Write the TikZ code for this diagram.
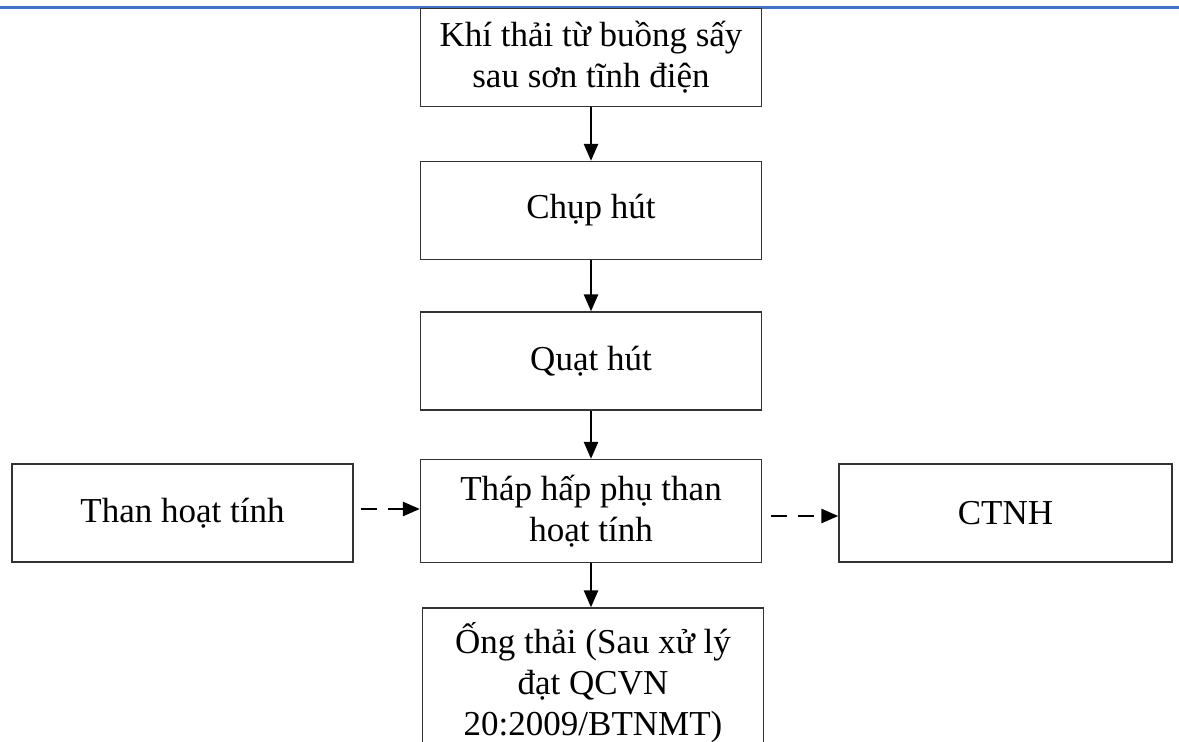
\documentclass[tikz,border=0pt]{standalone}
\usepackage{fontspec}
\setmainfont{Liberation Serif}
\usetikzlibrary{arrows.meta}
\definecolor{rulecol}{RGB}{68,114,196}

\begin{document}
\begin{tikzpicture}[x=1pt,y=-1pt,font=\fontsize{35}{41}\selectfont,
    box/.style={draw=black!80,line width=1.3pt,align=center,
      minimum width=341pt,minimum height=98pt,inner sep=0pt},
    flow/.style={-{Triangle[length=17pt,width=14pt]},line width=2.5pt},
    side/.style={flow,dash pattern=on 16pt off 11pt}]
    \useasboundingbox (0,0) rectangle (1179,742);
    \clip (0,0) rectangle (1179,742);

    \draw[rulecol,line width=3pt] (0,7) -- (1179,7);

    % main line
    \node[box] (dryer) at (591,57.5) {Khí thải từ buồng sấy\\sau sơn tĩnh điện};
    \node[box] (hood) at (591,210.5) {Chụp hút};
    \node[box] (fan) at (591,361) {Quạt hút};
    \node[box,minimum height=103pt] (tower) at (591,511) {Tháp hấp phụ than\\hoạt tính};
    \node[box,minimum height=150pt] (stack) at (593,683) {Ống thải (Sau xử lý\\đạt QCVN\\20:2009/BTNMT)};

    % carbon in / hazardous waste out
    \node[box] (carbon) at (182.5,513) {Than hoạt tính};
    \node[box,minimum width=333pt] (ctnh) at (1005.5,513) {CTNH};

    \draw[flow] (dryer) -- (hood);
    \draw[flow] (hood) -- (fan);
    \draw[flow] (fan) -- (tower);
    \draw[flow] (tower.south) -- (tower.south |- stack.north);

    \coordinate (cin) at ([xshift=7pt,yshift=4pt]carbon.east);
    \coordinate (cout) at ([xshift=9pt,yshift=-5pt]tower.east);
    \draw[side] (cin) -- (cin -| tower.west);
    \draw[side] (cout) -- (cout -| ctnh.west);
\end{tikzpicture}
\end{document}
